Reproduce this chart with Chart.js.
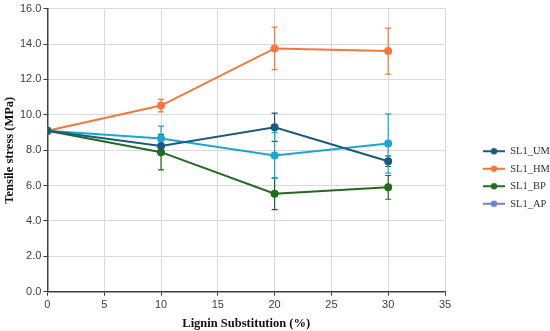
<!DOCTYPE html>
<html lang="en">
<head>
  <meta charset="UTF-8">
  <title>Tensile stress</title>
  <script src="https://cdn.jsdelivr.net/npm/chart.js@4.4.1/dist/chart.umd.min.js"></script>
  <style>
    html, body { margin: 0; padding: 0; background: #fff; }
    #wrap { width: 550px; height: 331px; }
  </style>
</head>
<body>
  <div id="wrap"><canvas id="myChart" width="550" height="331"></canvas></div>

  <script>
    // data
    const substitution = [0, 10, 20, 30];
    const seriesNames = ["SL1_UM", "SL1_HM", "SL1_BP", "SL1_AP"];
    const umValues = [9.1, 8.24, 9.3, 7.38];
    const umErrors = [0, 0.3, 0.8, 0.3];
    const hmValues = [9.1, 10.52, 13.75, 13.6];
    const hmErrors = [0, 0.35, 1.2, 1.3];
    const bpValues = [9.1, 7.89, 5.54, 5.9];
    const bpErrors = [0, 1.0, 0.9, 0.67];
    const apValues = [9.1, 8.66, 7.7, 8.38];
    const apErrors = [0, 0.7, 1.3, 1.67];
    const xTicks = [0, 5, 10, 15, 20, 25, 30, 35];
    const yTicks = [0, 2, 4, 6, 8, 10, 12, 14, 16];

    const lineColors = ["#1b5a7a", "#f5773f", "#236a1e", "#1ba6d2"];
    const legendColors = ["#1b5a7a", "#f5773f", "#236a1e", "#6b80d6"];
    const allValues = [umValues, hmValues, bpValues, apValues];
    const allErrors = [umErrors, hmErrors, bpErrors, apErrors];

    // legend box: width reserved on the right, where the first entry starts, vertical shift
    const legendBoxWidth = 105;
    const legendItemX = 483;
    const legendShiftY = 13;

    function legendIcon(color) {
      const c = document.createElement("canvas");
      c.width = 22; c.height = 10;
      const g = c.getContext("2d");
      g.strokeStyle = color;
      g.lineWidth = 2;
      g.beginPath(); g.moveTo(0, 5); g.lineTo(22, 5); g.stroke();
      g.fillStyle = color;
      g.beginPath(); g.arc(11, 5, 3.2, 0, Math.PI * 2); g.fill();
      return c;
    }

    const errorBars = {
      id: "errorBars",
      beforeDatasetsDraw(chart) {
        const ctx = chart.ctx;
        const xs = chart.scales.x, ys = chart.scales.y;
        chart.data.datasets.forEach((ds, i) => {
          const errs = allErrors[i];
          ctx.save();
          ctx.strokeStyle = ds.borderColor;
          ctx.lineWidth = 1.2;
          ds.data.forEach((p, j) => {
            if (!errs[j]) return;
            const px = xs.getPixelForValue(p.x);
            const top = ys.getPixelForValue(p.y + errs[j]);
            const bot = ys.getPixelForValue(p.y - errs[j]);
            ctx.beginPath();
            ctx.moveTo(px, top); ctx.lineTo(px, bot);
            ctx.moveTo(px - 3, top); ctx.lineTo(px + 3, top);
            ctx.moveTo(px - 3, bot); ctx.lineTo(px + 3, bot);
            ctx.stroke();
          });
          ctx.restore();
        });
      }
    };

    // widen the legend box and move its entries to the right place
    const legendTweak = {
      id: "legendTweak",
      afterInit(chart) {
        const lg = chart.legend;
        const fit = lg.fit;
        lg.fit = function () {
          fit.call(this);
          this.width = legendBoxWidth;
        };
      },
      afterLayout(chart) {
        const lg = chart.legend;
        const pad = lg.options.labels.padding;
        lg.left = legendItemX - pad;
        lg.right = lg.left + legendBoxWidth;
        lg.top += legendShiftY;
        lg.bottom += legendShiftY;
      }
    };

    const datasets = seriesNames.map((name, i) => ({
      label: name,
      data: substitution.map((x, j) => ({ x: x, y: allValues[i][j] })),
      borderColor: lineColors[i],
      backgroundColor: lineColors[i],
      pointBackgroundColor: lineColors[i],
      pointBorderColor: lineColors[i],
      pointRadius: 3,
      borderWidth: 2,
      tension: 0
    }));

    new Chart("myChart", {
      type: "line",
      data: { datasets: datasets },
      plugins: [errorBars, legendTweak],
      options: {
        responsive: false,
        animation: false,
        layout: { padding: { top: -2, right: 0, bottom: 0, left: 2 } },
        plugins: {
          tooltip: { enabled: false },
          legend: {
            position: "right",
            labels: {
              usePointStyle: true,
              pointStyleWidth: 22,
              color: "#333",
              font: { family: "'Liberation Serif', serif", size: 10.5 },
              padding: 7,
              generateLabels(chart) {
                return chart.data.datasets.map((ds, i) => ({
                  text: ds.label,
                  pointStyle: legendIcon(legendColors[i]),
                  fillStyle: legendColors[i],
                  strokeStyle: legendColors[i],
                  fontColor: "#333",
                  datasetIndex: i
                }));
              }
            }
          }
        },
        scales: {
          x: {
            type: "linear",
            min: 0, max: 35,
            afterBuildTicks(axis) { axis.ticks = xTicks.map(v => ({ value: v })); },
            grid: { color: "#d9d9d9", tickColor: "#404040", tickLength: 4 },
            border: { color: "#404040", width: 1.5 },
            ticks: { color: "#404040", padding: 3, font: { family: "'Liberation Sans', sans-serif", size: 11 } },
            title: {
              display: true, text: "Lignin Substitution (%)", color: "#111",
              font: { family: "'Liberation Serif', serif", size: 12.5, weight: "bold" },
              padding: { top: 1, bottom: 0 }
            }
          },
          y: {
            min: 0, max: 16,
            afterBuildTicks(axis) { axis.ticks = yTicks.map(v => ({ value: v })); },
            grid: { color: "#d9d9d9", tickColor: "#404040", tickLength: 4 },
            border: { color: "#404040", width: 1.5 },
            ticks: {
              color: "#404040",
              padding: 2,
              font: { family: "'Liberation Sans', sans-serif", size: 11 },
              callback: v => v.toFixed(1)
            },
            title: {
              display: true, text: "Tensile stress (MPa)", color: "#111",
              font: { family: "'Liberation Serif', serif", size: 12.5, weight: "bold" },
              padding: { top: 0, bottom: 1 }
            }
          }
        }
      }
    });
  </script>
</body>
</html>
